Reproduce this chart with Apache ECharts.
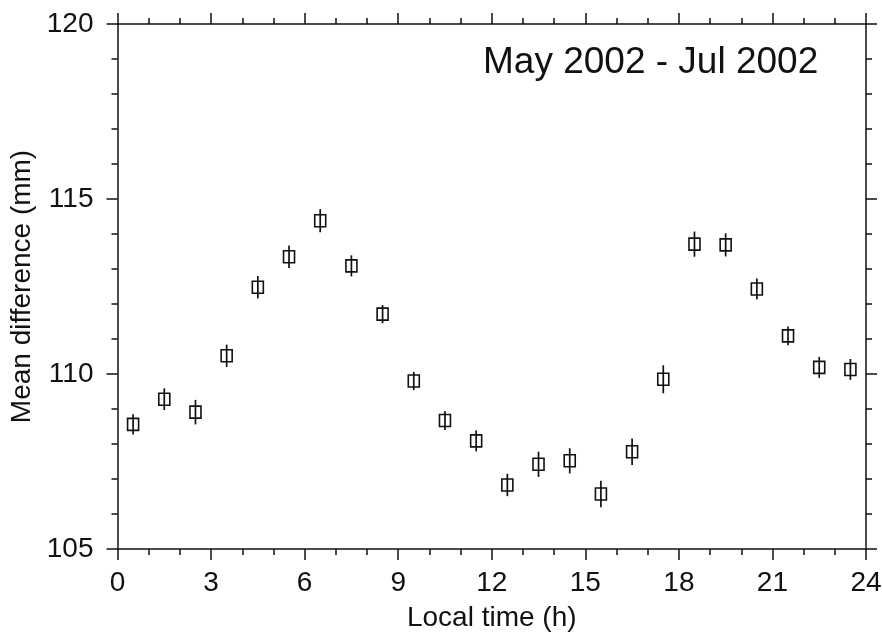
<!DOCTYPE html>
<html>
<head>
<meta charset="utf-8">
<script src="https://cdn.jsdelivr.net/npm/echarts@6/dist/echarts.min.js"></script>
<style>
html,body{margin:0;padding:0;background:#fff;}
#chart{width:882px;height:635px;}
</style>
</head>
<body>
<div id="chart"></div>
<script>
// Data
const localTime = [0.5,1.5,2.5,3.5,4.5,5.5,6.5,7.5,8.5,9.5,10.5,11.5,12.5,13.5,14.5,15.5,16.5,17.5,18.5,19.5,20.5,21.5,22.5,23.5];
const meanDiff  = [108.56,109.28,108.91,110.52,112.48,113.35,114.38,113.09,111.71,109.80,108.67,108.09,106.83,107.42,107.52,106.57,107.78,109.85,113.71,113.69,112.43,111.09,110.19,110.13];
const errHalf   = [0.29,0.31,0.35,0.32,0.32,0.32,0.33,0.30,0.26,0.26,0.27,0.30,0.32,0.36,0.36,0.38,0.38,0.40,0.36,0.33,0.30,0.27,0.30,0.30];
const xTicks = {min:0, max:24, step:3};
const yTicks = {min:105, max:120, step:5};
const titleText = 'May 2002 - Jul 2002';
const xName = 'Local time (h)';
const yName = 'Mean difference (mm)';

const FONT = '"Liberation Sans", Arial, Helvetica, sans-serif';
const INK = '#111';

const seriesData = localTime.map((t,i)=>[t, meanDiff[i], errHalf[i]]);

function axisCommon(split){
  return {
    type:'value',
    axisLine:{show:true, onZero:false, lineStyle:{color:INK, width:1.5}},
    axisTick:{show:true, inside:false, length:11, lineStyle:{color:INK, width:1.5}},
    minorTick:{show:true, splitNumber:split, length:6, lineStyle:{color:INK, width:1.5}},
    splitLine:{show:false},
    minorSplitLine:{show:false}
  };
}

const chart = echarts.init(document.getElementById('chart'), null, {renderer:'canvas'});
chart.setOption({
  backgroundColor:'#fff',
  animation:false,
  title:{
    text:titleText, left:483, top:44, padding:0,
    textStyle:{fontSize:37, fontWeight:'normal', color:INK, fontFamily:FONT}
  },
  grid:{left:117.5, right:16, top:24, bottom:86, outerBoundsMode:'none', containLabel:false},
  xAxis:[
    Object.assign(axisCommon(3), {
      position:'bottom', min:xTicks.min, max:xTicks.max, interval:xTicks.step,
      axisLabel:{fontSize:28, color:INK, fontFamily:FONT, margin:20},
      name:xName, nameLocation:'middle', nameGap:55,
      nameTextStyle:{fontSize:28, color:INK, fontFamily:FONT}
    }),
    Object.assign(axisCommon(3), {
      position:'top', min:xTicks.min, max:xTicks.max, interval:xTicks.step,
      axisLabel:{show:false}
    })
  ],
  yAxis:[
    Object.assign(axisCommon(5), {
      position:'left', min:yTicks.min, max:yTicks.max, interval:yTicks.step,
      axisLabel:{fontSize:28, color:INK, fontFamily:FONT, margin:24},
      name:yName, nameLocation:'middle', nameGap:77,
      nameTextStyle:{fontSize:28, color:INK, fontFamily:FONT}
    }),
    Object.assign(axisCommon(5), {
      position:'right', min:yTicks.min, max:yTicks.max, interval:yTicks.step,
      axisLabel:{show:false}
    })
  ],
  series:[{
    type:'custom',
    xAxisIndex:0, yAxisIndex:0,
    data:seriesData,
    encode:{x:0, y:1},
    renderItem:function(params, api){
      const x = api.value(0), v = api.value(1), e = api.value(2);
      const c = api.coord([x, v]);
      const lo = api.coord([x, v - e]);
      const hi = api.coord([x, v + e]);
      const w = 11, h = 12;
      return {
        type:'group',
        children:[
          {type:'line', shape:{x1:lo[0], y1:lo[1], x2:hi[0], y2:hi[1]}, style:{stroke:INK, lineWidth:1.7}},
          {type:'rect', shape:{x:c[0]-w/2, y:c[1]-h/2, width:w, height:h}, style:{fill:'transparent', stroke:INK, lineWidth:1.6}}
        ]
      };
    }
  }]
});
</script>
</body>
</html>
